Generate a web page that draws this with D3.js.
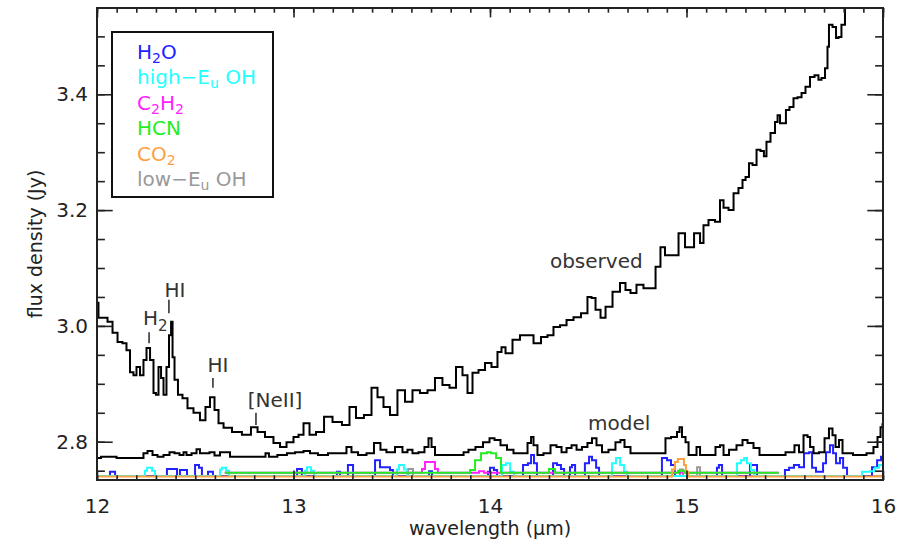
<!DOCTYPE html>
<html>
<head>
<meta charset="utf-8">
<script src="https://cdn.jsdelivr.net/npm/d3@7"></script>
<style>
  html, body { margin: 0; padding: 0; background: #fff; }
  svg { display: block; }
  text { font-family: "DejaVu Sans", sans-serif; fill: #222; }
</style>
</head>
<body>
<svg id="chart" width="902" height="548"></svg>
<script>
// ---------------- DATA ----------------
const xTicks = [12, 13, 14, 15, 16];
const yTicks = [2.8, 3.0, 3.2, 3.4];

// observed spectrum [wavelength (um), flux (Jy)]
const observed = [
  [12.000,3.040],[12.015,3.014],[12.041,3.014],[12.066,3.007],[12.092,2.988],[12.117,2.972],
  [12.142,2.970],[12.158,2.958],[12.178,2.920],[12.193,2.915],[12.209,2.929],[12.229,2.915],
  [12.244,2.941],[12.260,2.962],[12.280,2.941],[12.295,2.884],[12.305,2.881],[12.321,2.929],
  [12.331,2.910],[12.346,2.881],[12.361,2.929],[12.372,2.984],[12.382,3.007],[12.387,2.946],
  [12.402,2.907],[12.422,2.881],[12.448,2.875],[12.473,2.858],[12.509,2.850],[12.539,2.837],
  [12.565,2.860],[12.585,2.877],[12.611,2.855],[12.626,2.832],[12.662,2.824],[12.712,2.817],
  [12.763,2.812],[12.804,2.825],[12.830,2.817],[12.880,2.808],[12.916,2.798],[12.947,2.791],
  [12.982,2.799],[13.018,2.808],[13.033,2.812],[13.069,2.832],[13.094,2.812],[13.135,2.817],
  [13.176,2.843],[13.221,2.834],[13.272,2.829],[13.298,2.860],[13.338,2.841],[13.379,2.846],
  [13.415,2.893],[13.440,2.877],[13.476,2.860],[13.506,2.846],[13.552,2.889],[13.583,2.869],
  [13.628,2.889],[13.659,2.884],[13.705,2.889],[13.735,2.910],[13.781,2.898],[13.807,2.893],
  [13.847,2.929],[13.873,2.915],[13.898,2.884],[13.924,2.919],[13.959,2.924],[13.990,2.936],
  [14.025,2.929],[14.051,2.955],[14.066,2.963],[14.092,2.953],[14.137,2.976],[14.168,2.984],
  [14.204,2.984],[14.239,2.970],[14.280,2.981],[14.305,2.984],[14.341,2.998],[14.372,3.001],
  [14.407,3.010],[14.443,3.015],[14.483,3.022],[14.509,3.050],[14.524,3.048],[14.550,3.028],
  [14.575,3.014],[14.601,3.033],[14.646,3.059],[14.677,3.074],[14.702,3.062],[14.728,3.057],
  [14.763,3.071],[14.799,3.065],[14.830,3.065],[14.855,3.102],[14.880,3.136],[14.901,3.122],
  [14.952,3.122],[14.967,3.160],[15.018,3.136],[15.059,3.160],[15.079,3.143],[15.094,3.174],
  [15.130,3.183],[15.160,3.180],[15.181,3.217],[15.196,3.204],[15.232,3.200],[15.247,3.229],
  [15.282,3.238],[15.288,3.252],[15.313,3.257],[15.323,3.281],[15.349,3.278],[15.364,3.304],
  [15.389,3.302],[15.399,3.293],[15.415,3.318],[15.440,3.333],[15.461,3.352],[15.466,3.364],
  [15.486,3.350],[15.501,3.350],[15.511,3.373],[15.537,3.378],[15.552,3.393],[15.578,3.395],
  [15.593,3.402],[15.618,3.413],[15.639,3.430],[15.664,3.433],[15.679,3.425],[15.695,3.428],
  [15.715,3.445],[15.720,3.482],[15.730,3.520],[15.756,3.516],[15.766,3.497],[15.781,3.499],
  [15.796,3.520],[15.817,3.554],[15.840,3.590]
];

// total model [wavelength, flux]
const model = [
  [12.000,2.772],[12.041,2.774],[12.158,2.772],[12.229,2.772],[12.244,2.780],[12.270,2.784],
  [12.295,2.777],[12.321,2.774],[12.356,2.777],[12.382,2.782],[12.407,2.780],[12.433,2.777],
  [12.448,2.782],[12.463,2.777],[12.499,2.780],[12.514,2.787],[12.534,2.780],[12.560,2.780],
  [12.585,2.782],[12.611,2.776],[12.641,2.782],[12.667,2.782],[12.687,2.774],[12.718,2.774],
  [12.850,2.774],[12.865,2.780],[12.885,2.774],[12.951,2.777],[12.982,2.780],[13.033,2.782],
  [13.069,2.784],[13.099,2.780],[13.150,2.777],[13.201,2.780],[13.252,2.780],[13.287,2.791],
  [13.303,2.782],[13.354,2.777],[13.389,2.780],[13.430,2.798],[13.455,2.786],[13.491,2.782],
  [13.542,2.791],[13.567,2.782],[13.593,2.786],[13.618,2.780],[13.654,2.782],[13.679,2.791],
  [13.695,2.806],[13.710,2.791],[13.730,2.777],[13.858,2.777],[13.873,2.782],[13.908,2.786],
  [13.944,2.791],[13.985,2.799],[14.010,2.806],[14.036,2.803],[14.071,2.794],[14.102,2.786],
  [14.137,2.780],[14.178,2.780],[14.204,2.798],[14.214,2.808],[14.229,2.794],[14.254,2.777],
  [14.290,2.780],[14.326,2.794],[14.351,2.791],[14.377,2.782],[14.402,2.789],[14.428,2.794],
  [14.453,2.786],[14.483,2.791],[14.509,2.798],[14.529,2.806],[14.555,2.794],[14.585,2.782],
  [14.621,2.786],[14.656,2.799],[14.672,2.803],[14.697,2.791],[14.733,2.780],[14.835,2.780],
  [14.885,2.780],[14.901,2.806],[14.941,2.808],[14.962,2.817],[14.967,2.825],[14.987,2.808],
  [15.003,2.799],[15.018,2.777],[15.043,2.777],[15.059,2.791],[15.079,2.777],[15.135,2.777],
  [15.160,2.791],[15.181,2.794],[15.196,2.777],[15.237,2.786],[15.272,2.794],[15.298,2.803],
  [15.323,2.798],[15.359,2.789],[15.384,2.777],[15.471,2.777],[15.537,2.782],[15.562,2.794],
  [15.583,2.782],[15.608,2.811],[15.624,2.808],[15.634,2.791],[15.659,2.780],[15.690,2.782],
  [15.715,2.806],[15.735,2.823],[15.751,2.811],[15.766,2.791],[15.786,2.803],[15.802,2.780],
  [15.893,2.777],[15.939,2.780],[15.964,2.791],[15.980,2.808],[15.995,2.825],[16.000,2.830]
];

// model components: each point = [start wavelength, flux held until next point]
const h2o = [
  [12.000,2.741],[12.066,2.748],[12.092,2.741],
  [12.356,2.753],[12.407,2.741],[12.422,2.751],[12.458,2.741],
  [12.499,2.760],[12.519,2.755],[12.534,2.741],[12.565,2.748],[12.590,2.741],
  [13.018,2.753],[13.043,2.741],[13.221,2.748],[13.237,2.741],[13.277,2.760],[13.303,2.741],
  [13.415,2.768],[13.440,2.756],[13.491,2.751],[13.506,2.741],[13.690,2.749],[13.705,2.741],
  [13.990,2.748],[14.000,2.755],[14.020,2.751],[14.036,2.741],
  [14.168,2.760],[14.193,2.763],[14.209,2.777],[14.224,2.763],[14.239,2.741],
  [14.321,2.763],[14.341,2.760],[14.361,2.753],[14.377,2.741],
  [14.407,2.756],[14.417,2.760],[14.433,2.741],
  [14.483,2.763],[14.504,2.774],[14.519,2.768],[14.540,2.755],[14.555,2.741],
  [14.875,2.772],[14.901,2.768],[14.921,2.760],[14.941,2.741],
  [15.155,2.755],[15.165,2.760],[15.181,2.741],[15.323,2.760],[15.359,2.741],
  [15.501,2.751],[15.522,2.755],[15.547,2.760],[15.573,2.756],[15.598,2.780],[15.624,2.782],
  [15.639,2.755],[15.659,2.748],[15.695,2.763],[15.710,2.782],[15.730,2.794],[15.746,2.780],
  [15.761,2.763],[15.781,2.772],[15.797,2.755],[15.817,2.741],
  [15.944,2.756],[15.970,2.768],[15.990,2.774],[16.000,2.774]
];
const ohHigh = [
  [12.000,2.741],[12.244,2.750],[12.255,2.755],[12.280,2.750],[12.295,2.741],
  [12.626,2.752],[12.636,2.755],[12.657,2.750],[12.672,2.741],
  [13.059,2.750],[13.069,2.756],[13.089,2.750],[13.104,2.741],
  [13.527,2.752],[13.537,2.760],[13.562,2.752],[13.578,2.741],
  [14.061,2.760],[14.081,2.763],[14.102,2.748],[14.122,2.741],
  [14.621,2.763],[14.641,2.772],[14.662,2.760],[14.682,2.748],[14.697,2.741],
  [15.257,2.763],[15.277,2.768],[15.293,2.772],[15.308,2.763],[15.328,2.751],[15.344,2.741],
  [15.893,2.748],[15.934,2.749],[15.959,2.755],[15.980,2.760],[16.000,2.760]
];
const c2h2 = [
  [12.650,2.7465],[13.654,2.753],[13.669,2.765],[13.705,2.765],[13.720,2.753],
  [13.735,2.7465],[13.944,2.749],[13.970,2.7465],[15.470,2.7465]
];
const hcn = [
  [12.650,2.7465],[13.898,2.751],[13.924,2.768],[13.954,2.780],[13.985,2.782],[14.005,2.780],
  [14.031,2.772],[14.056,2.7465],[14.300,2.753],[14.331,2.7465],[14.957,2.750],[14.987,2.7465],
  [15.470,2.7465]
];
const co2 = [
  [12.000,2.740],[14.926,2.752],[14.941,2.765],[14.956,2.770],[14.987,2.760],[14.997,2.748],
  [15.008,2.740],[16.000,2.740]
];
const ohLow = [
  [12.000,2.741],[13.583,2.753],[13.608,2.741],[14.967,2.752],[14.982,2.741],[15.054,2.756],
  [15.069,2.741],[16.000,2.741]
];

const legendLabels = [
  {parts: [["H",0],["2",1],["O",0]], color: "#2222ff"},
  {parts: [["high\u2212E",0],["u",1],[" OH",0]], color: "#22ffff"},
  {parts: [["C",0],["2",1],["H",0],["2",1]], color: "#ff22ff"},
  {parts: [["HCN",0]], color: "#22ee22"},
  {parts: [["CO",0],["2",1]], color: "#ffa040"},
  {parts: [["low\u2212E",0],["u",1],[" OH",0]], color: "#999999"}
];

// annotations: label position in data coords, marker segment in data coords
const lineLabels = [
  {parts: [["H",0],["2",1]], lx: 12.234, ly: 3.001, anchor: "start", mx: 12.265, m0: 2.970, m1: 2.989},
  {parts: [["HI",0]], lx: 12.397, ly: 3.050, anchor: "middle", mx: 12.366, m0: 3.022, m1: 3.045},
  {parts: [["HI",0]], lx: 12.616, ly: 2.920, anchor: "middle", mx: 12.590, m0: 2.893, m1: 2.910},
  {parts: [["[NeII]",0]], lx: 12.906, ly: 2.860, anchor: "middle", mx: 12.809, m0: 2.829, m1: 2.850}
];
const curveLabels = [
  {text: "observed", lx: 14.305, ly: 3.100},
  {text: "model", lx: 14.499, ly: 2.820}
];

// ---------------- DRAW ----------------
const svg = d3.select("#chart");
const L = 97, R = 883, T = 8, B = 480;
const x = d3.scaleLinear().domain([12, 16]).range([L, R]);
const y = d3.scaleLinear().domain([2.7339, 3.549]).range([B, T]);

svg.append("defs").append("clipPath").attr("id", "clip")
  .append("rect").attr("x", L).attr("y", T).attr("width", R - L).attr("height", B - T);

const line = d3.line().x(d => x(d[0])).y(d => y(d[1])).curve(d3.curveStep);
const stepLine = d3.line().x(d => x(d[0])).y(d => y(d[1])).curve(d3.curveStepAfter);
const g = svg.append("g").attr("clip-path", "url(#clip)");

const comps = [
  [ohLow, "#999999"], [h2o, "#2222ff"], [ohHigh, "#22ffff"],
  [c2h2, "#ff22ff"], [hcn, "#22ee22"], [co2, "#ffa040"]
];
comps.forEach(([d, c]) => {
  g.append("path").datum(d).attr("d", stepLine)
    .attr("fill", "none").attr("stroke", c).attr("stroke-width", 2);
});
g.append("path").datum(model).attr("d", line)
  .attr("fill", "none").attr("stroke", "#000").attr("stroke-width", 2);
g.append("path").datum(observed).attr("d", line)
  .attr("fill", "none").attr("stroke", "#000").attr("stroke-width", 2);

// axes (IDL-style box with inward ticks)
const xMinor = d3.range(12, 16.0001, 0.1);
const yMinor = d3.range(2.75, 3.549, 0.05);
const xAxisB = d3.axisBottom(x).tickValues(xTicks).tickSize(-9.4).tickFormat(d3.format("d")).tickPadding(19);
const xAxisT = d3.axisTop(x).tickValues(xTicks).tickSize(-9.4).tickFormat("");
const xMinB = d3.axisBottom(x).tickValues(xMinor).tickSize(-4.7).tickFormat("");
const xMinT = d3.axisTop(x).tickValues(xMinor).tickSize(-4.7).tickFormat("");
const yAxisL = d3.axisLeft(y).tickValues(yTicks).tickSize(-15.7).tickFormat(d3.format(".1f")).tickPadding(9);
const yAxisR = d3.axisRight(y).tickValues(yTicks).tickSize(-15.7).tickFormat("");
const yMinL = d3.axisLeft(y).tickValues(yMinor).tickSize(-7.9).tickFormat("");
const yMinR = d3.axisRight(y).tickValues(yMinor).tickSize(-7.9).tickFormat("");

function styleAxis(sel) {
  sel.select(".domain").remove();
  sel.selectAll("line").attr("stroke", "#222").attr("stroke-width", 1.6);
  sel.selectAll("text").style("font-family", "DejaVu Sans, sans-serif").style("font-size", "20px").attr("fill", "#222");
}
[[xMinB, `translate(0,${B})`], [xMinT, `translate(0,${T})`], [xAxisB, `translate(0,${B})`], [xAxisT, `translate(0,${T})`],
 [yMinL, `translate(${L},0)`], [yMinR, `translate(${R},0)`], [yAxisL, `translate(${L},0)`], [yAxisR, `translate(${R},0)`]]
  .forEach(([ax, tr]) => svg.append("g").attr("transform", tr).call(ax).call(styleAxis));

svg.append("rect").attr("x", L).attr("y", T).attr("width", R - L).attr("height", B - T)
  .attr("fill", "none").attr("stroke", "#222").attr("stroke-width", 2);

// axis titles
svg.append("text").attr("x", (L + R) / 2).attr("y", 535).attr("text-anchor", "middle")
  .style("font-size", "19px").text("wavelength (\u03bcm)");
svg.append("text").attr("transform", `translate(42,${(T + B) / 2}) rotate(-90)`).attr("text-anchor", "middle")
  .style("font-size", "19px").text("flux density (Jy)");

// helper for text with subscripts
function richText(t, parts, size, subSize, shift) {
  let prevSub = false;
  parts.forEach(([s, sub]) => {
    const dy = sub ? shift : (prevSub ? -shift : 0);
    t.append("tspan").text(s).style("font-size", (sub ? subSize : size) + "px").attr("dy", dy);
    prevSub = !!sub;
  });
}

// legend
svg.append("rect").attr("x", 112).attr("y", 32).attr("width", 161).attr("height", 165)
  .attr("fill", "#fff").attr("stroke", "#111").attr("stroke-width", 2);
legendLabels.forEach((lab, i) => {
  const t = svg.append("text").attr("x", 137).attr("y", 59 + i * 25.4)
    .style("font-size", "20px").style("fill", lab.color);
  richText(t, lab.parts, 20, 14, 4);
  t.selectAll("tspan").style("fill", lab.color);
});

// line identification labels
lineLabels.forEach(lab => {
  const t = svg.append("text").attr("x", x(lab.lx)).attr("y", y(lab.ly))
    .attr("text-anchor", lab.anchor).style("font-size", "20px").style("fill", "#333");
  richText(t, lab.parts, 20, 15, 6);
  svg.append("line").attr("x1", x(lab.mx)).attr("x2", x(lab.mx)).attr("y1", y(lab.m0)).attr("y2", y(lab.m1))
    .attr("stroke", "#333").attr("stroke-width", 1.6);
});
curveLabels.forEach(lab => {
  svg.append("text").attr("x", x(lab.lx)).attr("y", y(lab.ly))
    .style("font-size", "20px").style("fill", "#333").text(lab.text);
});
</script>
</body>
</html>
